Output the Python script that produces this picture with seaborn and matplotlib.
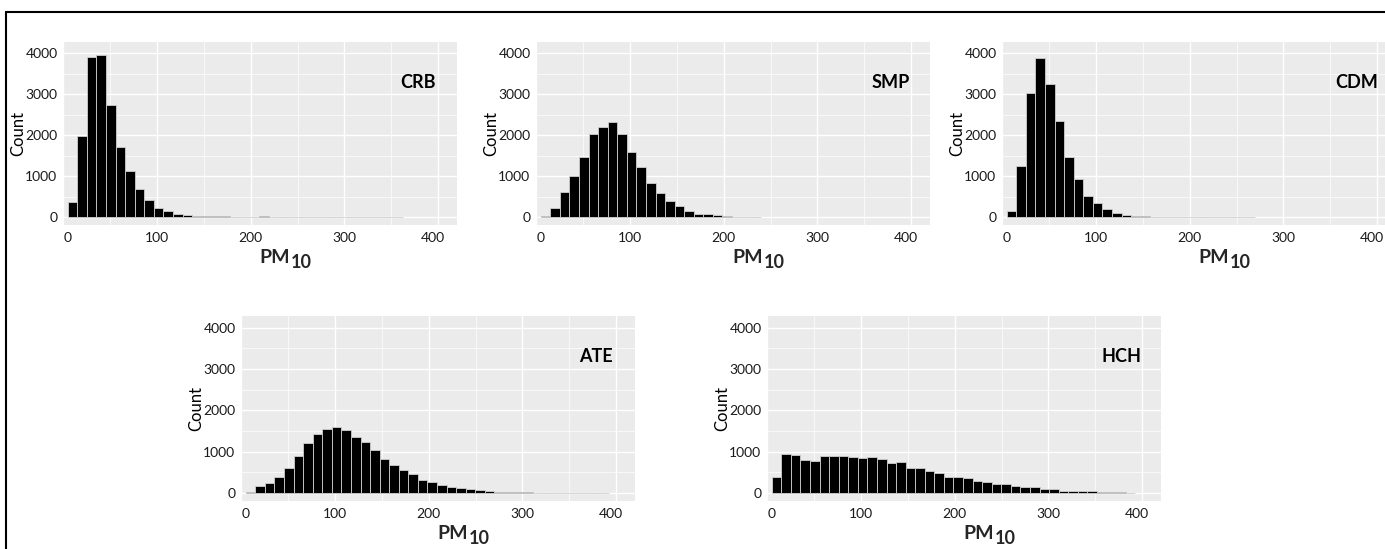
import numpy as np
import pandas as pd
import matplotlib
matplotlib.use("Agg")
import matplotlib.pyplot as plt
import seaborn as sns
from matplotlib.ticker import MultipleLocator
from matplotlib.lines import Line2D
from matplotlib.transforms import ScaledTranslation

# Histogram bins (PM10), shared by all stations
bin_start = 5.0
bin_width = 10.2

# Counts per bin
crb = [375, 1990, 3925, 3970, 2730, 1717, 1122, 700, 430, 237, 156, 90, 66, 34, 34,
       20, 18, 15, 10, 8, 20, 3, 4, 4, 3, 2, 2, 1, 0, 0, 1, 0, 0, 5, 0]
smp = [24, 228, 619, 1002, 1475, 2029, 2200, 2314, 2045, 1605, 1230, 839, 595, 391,
       269, 163, 90, 73, 57, 24, 8, 4, 2]
cdm = [163, 1240, 3025, 3880, 3250, 2355, 1465, 935, 520, 342, 204, 114, 65, 40, 33,
       16, 8, 3, 2, 3, 3, 1, 1, 2, 3, 2]
ate = [24, 161, 234, 395, 613, 903, 1210, 1419, 1548, 1589, 1524, 1355, 1242, 1032,
       831, 685, 548, 452, 315, 258, 194, 145, 113, 89, 65, 40, 32, 24, 16, 16, 12,
       8, 8, 0, 8, 0, 2, 2]
hch = [380, 945, 910, 805, 780, 895, 895, 895, 880, 845, 870, 830, 740, 758, 613, 613,
       540, 492, 395, 380, 363, 298, 258, 218, 218, 161, 137, 137, 105, 105, 56, 40,
       56, 56, 32, 16, 24, 8]

stations = ["CRB", "SMP", "CDM", "ATE", "HCH"]
counts = [crb, smp, cdm, ate, hch]

x_ticks = [0, 100, 200, 300, 400]
y_ticks = [0, 1000, 2000, 3000, 4000]

sns.set_theme(style="darkgrid", rc={
    "axes.facecolor": "#EBEBEB",
    "grid.color": "white",
})
plt.rcParams["font.family"] = ["Lato", "DejaVu Sans"]

W, H = 1385, 549
fig = plt.figure(figsize=(W / 100, H / 100), dpi=100)
fig.patch.set_facecolor("white")

# panel boxes in pixels: left, top, width, height
boxes = [(63, 42, 394, 183), (536, 42, 394, 183), (1002, 42, 394, 183),
         (241, 316, 394, 185), (767, 316, 394, 185)]

for name, cnt, (px, py, pw, ph) in zip(stations, counts, boxes):
    ax = fig.add_axes([px / W, 1 - (py + ph) / H, pw / W, ph / H])
    n = len(cnt)
    edges = [bin_start + bin_width * i for i in range(n + 1)]
    df = pd.DataFrame({"pm10": [e + bin_width / 2 for e in edges[:-1]], "n": cnt})
    sns.histplot(data=df, x="pm10", weights="n", bins=edges, ax=ax,
                 color="black", alpha=1, edgecolor="#cfcfcf", linewidth=0.6)
    ax.set_xlim(0, 420)
    ax.set_ylim(-190, 4280)
    ax.set_xticks(x_ticks)
    ax.set_yticks(y_ticks)
    ax.xaxis.set_minor_locator(MultipleLocator(50))
    ax.yaxis.set_minor_locator(MultipleLocator(500))
    ax.grid(which="major", color="white", linewidth=1.0)
    ax.grid(which="minor", color="white", linewidth=0.5)
    ax.set_axisbelow(True)
    for s in ax.spines.values():
        s.set_visible(False)
    ax.tick_params(axis="both", which="major", labelsize=10, colors="#1a1a1a",
                   length=2.5, width=0.8)
    ax.tick_params(axis="y", pad=1.5)
    ax.tick_params(axis="x", pad=5, length=0)
    ax.tick_params(which="minor", length=0)

    # x tick labels sit a little inward at both ends
    xl = ax.get_xticklabels()
    xl[0].set_transform(xl[0].get_transform() + ScaledTranslation(5 / 100, 0, fig.dpi_scale_trans))
    xl[-1].set_transform(xl[-1].get_transform() + ScaledTranslation(-5 / 100, 0, fig.dpi_scale_trans))

    ax.set_ylabel("Count", fontsize=12, color="black")
    ax.yaxis.set_label_coords(-37 / pw, 0.5)
    ax.set_xlabel("")

    # PM10 label with large subscript
    ax.annotate("PM", xy=(196 / pw, 0), xycoords="axes fraction",
                xytext=(0, -38 * 0.72), textcoords="offset points",
                ha="left", va="baseline", fontsize=14, fontweight="bold")
    ax.annotate("10", xy=(228 / pw, 0), xycoords="axes fraction",
                xytext=(0, -43 * 0.72), textcoords="offset points",
                ha="left", va="baseline", fontsize=13, fontweight="bold")

    ax.text(378, 3300, name, fontsize=13, fontweight="bold", ha="center", va="center",
            color="black")

# outer frame (top and left edges)
fig.add_artist(Line2D([6 / W, 1.0], [1 - 12 / H, 1 - 12 / H], color="black", lw=1.5,
                      transform=fig.transFigure))
fig.add_artist(Line2D([6 / W, 6 / W], [0.0, 1 - 12 / H], color="black", lw=1.5,
                      transform=fig.transFigure))

fig.savefig("out.png", dpi=100)
